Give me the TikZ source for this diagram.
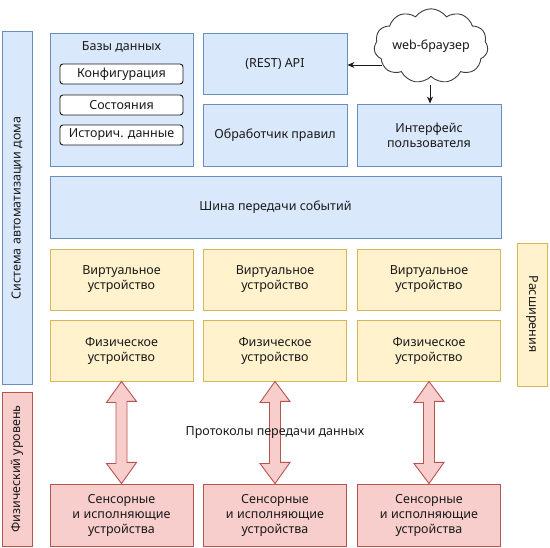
\documentclass[tikz,border=0pt]{standalone}
\usepackage{fontspec}
\setmainfont{Noto Sans}
\usetikzlibrary{shapes.symbols,shapes.arrows,arrows.meta}
\definecolor{bluef}{HTML}{DAE8FC}\definecolor{blued}{HTML}{6C8EBF}
\definecolor{yelf}{HTML}{FFF2CC}\definecolor{yeld}{HTML}{D6B656}
\definecolor{redf}{HTML}{F8CECC}\definecolor{redd}{HTML}{B85450}
\definecolor{txt}{HTML}{1A1A1A}
\tikzset{
  every node/.style={font=\fontsize{12.5}{15}\selectfont, text=txt, inner sep=0pt, align=center},
  bluebox/.style={draw=blued, fill=bluef, line width=0.9pt},
  yelbox/.style={draw=yeld, fill=yelf, line width=0.9pt},
  redbox/.style={draw=redd, fill=redf, line width=0.9pt},
  dbitem/.style={draw=txt, fill=white, rounded corners=3pt, line width=0.9pt},
  conn/.style={-{Stealth[length=7pt,width=6pt]}, draw=txt, line width=0.9pt},
  dblarrow/.style={draw=redd, fill=redf, line width=0.9pt},
}
\begin{document}
\begin{tikzpicture}[x=1pt,y=-1pt]
\useasboundingbox (0,0) rectangle (550,548);
% side bars
\draw[bluebox] (2,31) rectangle (32,384);
\node[rotate=90] (sys) at (17,208) {Система автоматизации дома};
\draw[redbox] (2,392) rectangle (32,546);
\node[rotate=90] (phys) at (17,469) {Физический уровень};
\draw[yelbox] (517,243) rectangle (547,386);
\node[rotate=-90] (ext) at (532,314) {Расширения};
% databases
\draw[bluebox] (50,33) rectangle (193,166);
\node (dbt) at (121.5,47) {Базы данных};
\draw[dbitem] (60,64) rectangle (183,84);
\node (cfg) at (121.5,74) {Конфигурация};
\draw[dbitem] (60,95) rectangle (183,115);
\node (st) at (121.5,105) {Состояния};
\draw[dbitem] (60,125) rectangle (183,145);
\node (hist) at (121.5,135) {Историч. данные};
% top boxes
\node[bluebox, minimum width=144pt, minimum height=61pt] (api) at (275,63.5) {(REST) API};
\node[bluebox, minimum width=144pt, minimum height=62pt] (rules) at (275,135) {Обработчик правил};
\node[bluebox, minimum width=144pt, minimum height=62pt] (ui) at (429,135) {Интерфейс\\пользователя};
\node[bluebox, minimum width=451pt, minimum height=62pt] (bus) at (275.5,207) {Шина передачи событий};
% cloud
\node[cloud, draw=txt!85, fill=white, line width=0.9pt, cloud puffs=11, cloud puff arc=110, aspect=1.8, minimum width=110pt, minimum height=62pt] (web) at (431,46) {web-браузер};
\draw[conn] (web.west |- 0,65) ++(8,0) coordinate (wl) -- (api.east |- wl);
\coordinate (wb) at (430,85);
\draw[conn] (wb) -- (ui.north -| wb);
% devices
\foreach \x/\n in {121.5/a,275/b,429/c}{
  \node[yelbox, minimum width=143pt, minimum height=61pt] (v\n) at (\x,279.5) {Виртуальное\\устройство};
  \node[yelbox, minimum width=143pt, minimum height=61pt] (p\n) at (\x,350.5) {Физическое\\устройство};
  \node[redbox, minimum width=143pt, minimum height=62pt] (s\n) at (\x,515) {Сенсорные\\и исполняющие\\устройства};
  \draw[dblarrow] (p\n.south) -- ++(15,20) -- ++(-9.5,0) -- ++(0,61) -- ++(9.5,0) -- (s\n.north) -- ++(-15,-20) -- ++(9.5,0) -- ++(0,-61) -- ++(-9.5,0) -- cycle;
}
\node (proto) at (275,433) {Протоколы передачи данных};
\end{tikzpicture}
\end{document}
